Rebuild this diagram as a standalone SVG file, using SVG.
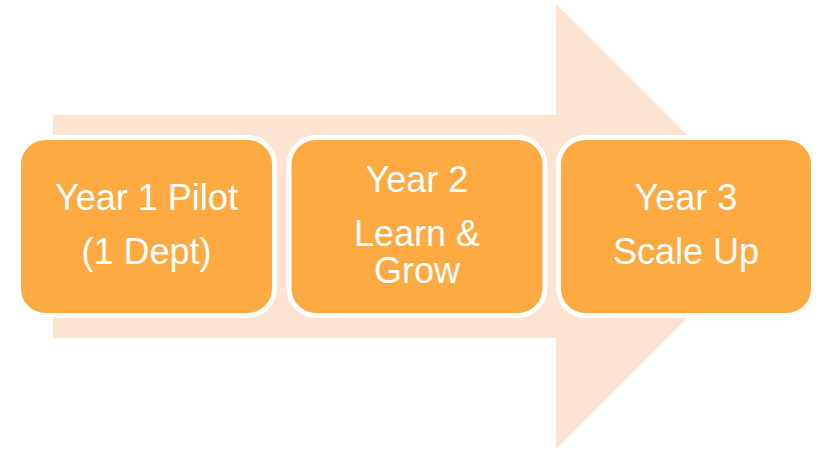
<svg xmlns="http://www.w3.org/2000/svg" width="820" height="452" viewBox="0 0 820 452">
  <style>
    .step { fill: #FDAA43; stroke: #FFFFFF; stroke-width: 5; }
    .label { font-family: "Liberation Sans", Arial, sans-serif; font-size: 36px; fill: #FFFFFF; text-anchor: middle; }
  </style>
  <rect width="820" height="452" fill="#FFFFFF"/>

  <!-- background block arrow -->
  <g id="arrow">
    <polygon points="53,115 556,115 556,4 778.5,226.5 556,449 556,338 53,338" fill="#FDE3D1"/>
  </g>

  <g id="connectors"></g>

  <g id="step1">
    <rect class="step" x="18.5" y="137.5" width="256" height="178" rx="27"/>
    <text class="label" x="146.5" y="210">Year 1 Pilot</text>
    <text class="label" x="146.5" y="264">(1 Dept)</text>
  </g>

  <g id="step2">
    <rect class="step" x="289" y="137.5" width="256" height="178" rx="27"/>
    <text class="label" x="417" y="192">Year 2</text>
    <text class="label" x="417" y="246">Learn &amp;</text>
    <text class="label" x="417" y="283">Grow</text>
  </g>

  <g id="step3">
    <rect class="step" x="558.5" y="137.5" width="255" height="178" rx="27"/>
    <text class="label" x="686" y="210">Year 3</text>
    <text class="label" x="686" y="264">Scale Up</text>
  </g>
</svg>
